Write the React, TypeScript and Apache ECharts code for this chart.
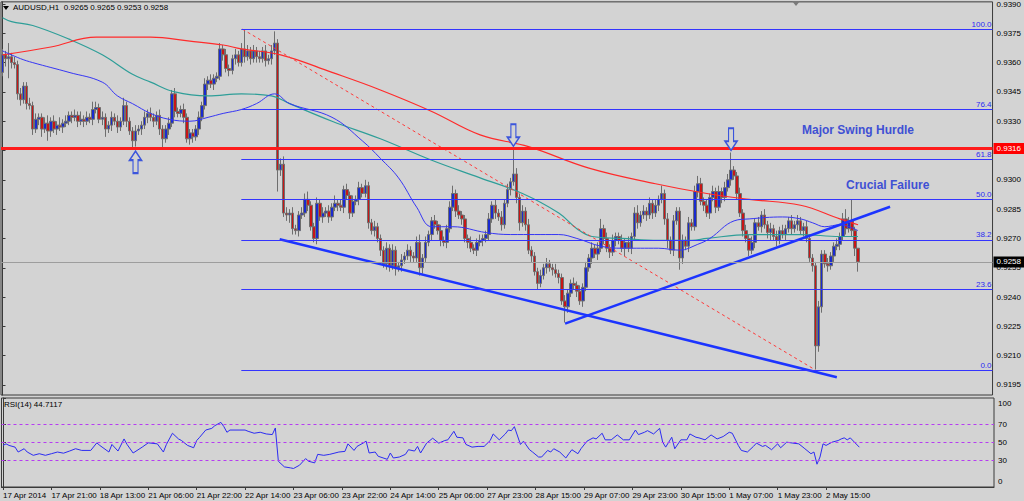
import React, { useEffect, useRef } from 'react';
import * as echarts from 'echarts';

const BG = '#d3d3d3';
const FONT = "'Liberation Sans Narrow', 'Liberation Sans', Arial, sans-serif";

const symbolName = 'AUDUSD,H1';
const tickLabels = [
  '17 Apr 2014', '17 Apr 21:00', '18 Apr 13:00', '21 Apr 06:00', '21 Apr 22:00', '22 Apr 14:00',
  '23 Apr 06:00', '23 Apr 22:00', '24 Apr 14:00', '25 Apr 06:00', '27 Apr 23:00', '28 Apr 15:00',
  '29 Apr 07:00', '29 Apr 23:00', '30 Apr 15:00', '1 May 07:00', '1 May 23:00', '2 May 15:00',
];

// prices in pips (x 0.0001)
const firstOpenPips = 9355;
const closePips = [
  9364, 9362, 9363, 9360, 9359, 9344, 9341, 9348, 9339, 9338, 9326, 9331, 9332, 9326, 9329, 9325,
  9330, 9326, 9328, 9327, 9329, 9330, 9333, 9332, 9333, 9330, 9331, 9330, 9332, 9331, 9336, 9337,
  9331, 9332, 9326, 9328, 9332, 9330, 9327, 9330, 9338, 9330, 9325, 9320, 9325, 9326, 9328, 9332,
  9334, 9332, 9330, 9333, 9326, 9321, 9326, 9329, 9344, 9335, 9334, 9336, 9332, 9321, 9324, 9322,
  9326, 9332, 9338, 9349, 9351, 9349, 9352, 9353, 9367, 9364, 9357, 9356, 9362, 9364, 9360, 9367,
  9363, 9366, 9362, 9366, 9363, 9362, 9366, 9361, 9362, 9366, 9370, 9305, 9308, 9283, 9282, 9283,
  9275, 9274, 9282, 9283, 9290, 9287, 9276, 9270, 9288, 9281, 9283, 9284, 9281, 9286, 9288, 9287,
  9286, 9295, 9292, 9283, 9289, 9290, 9296, 9293, 9297, 9278, 9274, 9276, 9270, 9264, 9257, 9265,
  9256, 9264, 9255, 9256, 9259, 9261, 9264, 9261, 9260, 9268, 9255, 9260, 9268, 9272, 9279, 9277,
  9274, 9269, 9268, 9275, 9286, 9293, 9284, 9282, 9280, 9270, 9268, 9265, 9264, 9268, 9269, 9270,
  9272, 9280, 9287, 9283, 9281, 9277, 9288, 9295, 9299, 9303, 9291, 9278, 9284, 9277, 9264, 9261,
  9253, 9247, 9251, 9255, 9257, 9255, 9254, 9252, 9250, 9238, 9235, 9242, 9247, 9246, 9243, 9238,
  9245, 9255, 9260, 9265, 9262, 9265, 9275, 9270, 9265, 9263, 9269, 9271, 9269, 9265, 9268, 9265,
  9271, 9283, 9278, 9282, 9284, 9282, 9288, 9283, 9287, 9290, 9293, 9280, 9269, 9264, 9279, 9284,
  9260, 9269, 9266, 9278, 9276, 9294, 9298, 9289, 9287, 9283, 9291, 9294, 9286, 9294, 9291, 9296,
  9300, 9305, 9302, 9293, 9283, 9274, 9270, 9264, 9268, 9278, 9276, 9282, 9277, 9273, 9275, 9271,
  9269, 9274, 9272, 9275, 9279, 9275, 9277, 9279, 9274, 9276, 9270, 9260, 9256, 9215, 9235, 9262,
  9257, 9256, 9261, 9266, 9267, 9271, 9280, 9275, 9279, 9274, 9265, 9258,
];
const upperWickPips = [
  3, 2, 7, 2, 3, 2, 3, 2, 2, 3, 2, 3, 2, 2, 3, 4,
  2, 3, 2, 4, 2, 3, 2, 2, 3, 2, 4, 2, 3, 2, 4, 3,
  2, 3, 2, 2, 3, 2, 3, 2, 4, 2, 2, 2, 3, 2, 2, 3,
  2, 3, 2, 2, 3, 2, 2, 3, 2, 3, 2, 2, 3, 2, 2, 2,
  2, 3, 2, 3, 2, 3, 2, 2, 3, 2, 3, 2, 2, 3, 2, 3,
  10, 3, 2, 3, 2, 3, 2, 3, 2, 3, 6, 2, 3, 4, 3, 2,
  3, 2, 2, 3, 3, 4, 2, 2, 3, 2, 3, 2, 3, 2, 4, 2,
  3, 2, 3, 2, 3, 2, 3, 2, 3, 2, 2, 3, 2, 2, 2, 3,
  2, 3, 2, 2, 3, 2, 3, 2, 2, 3, 4, 2, 3, 2, 2, 3,
  2, 3, 2, 2, 3, 4, 2, 3, 2, 2, 2, 3, 2, 2, 3, 2,
  2, 3, 2, 3, 2, 3, 2, 3, 2, 13, 3, 2, 3, 2, 3, 2,
  2, 2, 3, 2, 3, 2, 2, 3, 2, 2, 3, 2, 2, 3, 2, 3,
  2, 3, 2, 3, 2, 3, 5, 2, 3, 2, 3, 2, 2, 3, 2, 3,
  2, 3, 4, 2, 3, 2, 3, 2, 3, 2, 4, 2, 3, 2, 3, 2,
  2, 3, 2, 3, 2, 3, 4, 3, 2, 3, 2, 3, 2, 3, 2, 3,
  3, 9, 2, 2, 3, 2, 3, 2, 3, 2, 3, 2, 3, 2, 3, 2,
  3, 2, 3, 2, 2, 3, 2, 3, 2, 2, 3, 2, 2, 2, 3, 2,
  2, 3, 2, 2, 3, 2, 3, 5, 2, 11, 2, 0,
];
const lowerWickPips = [
  2, 4, 10, 3, 2, 3, 3, 2, 3, 2, 3, 2, 3, 4, 2, 5,
  3, 2, 3, 2, 3, 2, 2, 3, 2, 3, 2, 3, 2, 2, 3, 2,
  2, 3, 4, 2, 3, 2, 3, 2, 2, 3, 2, 4, 3, 2, 3, 2,
  3, 2, 3, 2, 3, 5, 2, 3, 2, 3, 2, 2, 3, 2, 3, 3,
  2, 3, 2, 2, 3, 2, 3, 2, 2, 3, 2, 3, 2, 3, 2, 2,
  3, 2, 3, 2, 3, 2, 2, 3, 2, 3, 2, 11, 3, 2, 3, 4,
  3, 2, 3, 2, 2, 3, 2, 2, 3, 2, 3, 2, 3, 2, 2, 3,
  2, 3, 2, 3, 2, 2, 3, 2, 2, 3, 2, 3, 2, 3, 2, 3,
  3, 2, 4, 2, 3, 2, 2, 3, 2, 2, 4, 3, 2, 2, 3, 2,
  2, 3, 2, 3, 2, 2, 3, 2, 3, 2, 3, 2, 2, 3, 2, 3,
  2, 3, 2, 3, 2, 3, 2, 2, 3, 2, 3, 4, 2, 3, 2, 3,
  2, 3, 2, 2, 3, 2, 3, 2, 3, 2, 8, 3, 2, 2, 3, 2,
  3, 2, 2, 3, 2, 3, 2, 3, 2, 3, 2, 3, 2, 2, 4, 2,
  3, 2, 3, 2, 2, 3, 2, 3, 2, 3, 2, 3, 4, 2, 3, 2,
  6, 3, 2, 3, 2, 2, 3, 2, 3, 2, 3, 2, 3, 2, 3, 2,
  2, 3, 2, 3, 2, 3, 2, 3, 2, 3, 2, 3, 2, 3, 4, 2,
  3, 2, 2, 3, 2, 3, 2, 3, 2, 3, 2, 2, 3, 12, 3, 3,
  2, 3, 2, 3, 2, 3, 2, 3, 2, 3, 4, 5,
];

// moving averages read at sample bars: [bar index, pips]
const redMA = [
  [0, 9364], [16, 9368], [31, 9373], [49, 9373], [62, 9371], [73, 9369], [79, 9367], [92, 9364],
  [109, 9355], [125, 9346], [142, 9335], [158, 9323], [174, 9317], [194, 9306], [216, 9298],
  [233, 9293], [247, 9290], [264, 9287], [277, 9280], [283, 9277],
];
const tealMA = [
  [0, 9383], [3, 9381], [10, 9379], [22, 9372], [33, 9364], [43, 9354], [49, 9350], [57, 9345],
  [68, 9343], [79, 9344], [89, 9343], [95, 9339], [109, 9330], [125, 9321], [142, 9310], [158, 9301],
  [172, 9293], [184, 9283], [190, 9275], [195, 9271], [205, 9270], [217, 9269], [228, 9269],
  [233, 9270], [247, 9272], [264, 9272], [277, 9271], [283, 9271],
];
const blueMA = [
  [0, 9366], [6, 9362], [10, 9360], [22, 9355], [33, 9350], [38, 9343], [43, 9339], [49, 9334],
  [55, 9331], [62, 9330], [68, 9332], [73, 9334], [79, 9336], [84, 9339], [90, 9344], [95, 9339],
  [109, 9332], [119, 9320], [125, 9311], [131, 9301], [137, 9286], [142, 9276], [149, 9276],
  [160, 9273], [168, 9272], [184, 9272], [190, 9270], [198, 9266], [205, 9265], [217, 9265],
  [224, 9264], [230, 9267], [234, 9270], [242, 9279], [247, 9280], [258, 9281], [264, 9280],
  [268, 9278], [272, 9276], [277, 9277], [283, 9274],
];

const rsiPoints = [
  [0, 46.7], [1, 48.5], [2, 46.7], [4, 44.8], [5, 39.3], [7, 43], [8, 39.3], [10, 35.6], [12, 37.4],
  [14, 35.6], [16, 37.4], [18, 39.3], [20, 38], [22, 40.4], [24, 43], [26, 41.1], [29, 41.1],
  [31, 49.6], [32, 46.7], [35, 39.3], [36, 47.8], [38, 40.4], [40, 54], [41, 47.8], [43, 38.2],
  [46, 44.8], [48, 49.6], [51, 48.5], [53, 39.3], [54, 47.8], [56, 60.4], [58, 54], [59, 52.2],
  [61, 46.7], [63, 44.1], [64, 52.2], [65, 55.9], [67, 64], [69, 65.9], [70, 68.9], [72, 72.6],
  [73, 67.8], [74, 61.5], [75, 64], [78, 64], [80, 64], [81, 62.6], [83, 60.4], [85, 61.5],
  [87, 59.6], [89, 58.9], [90, 66.3], [91, 28.9], [93, 22.6], [95, 21.5], [96, 20.8], [98, 24.5],
  [100, 31.9], [101, 28.9], [103, 27.1], [104, 36.7], [106, 35.6], [108, 36.7], [111, 39.3],
  [113, 40], [114, 48.5], [116, 41.1], [117, 45.6], [119, 49.3], [120, 51.5], [121, 38.2],
  [123, 39.3], [124, 34.5], [127, 31.1], [128, 38.2], [129, 32.6], [131, 33.7], [133, 36.7],
  [134, 41.9], [136, 40.4], [137, 45.6], [138, 38.2], [140, 49.3], [142, 54.8], [144, 49.3],
  [146, 52.2], [147, 53], [149, 62.6], [150, 55.9], [152, 55.2], [153, 47.8], [155, 44.8],
  [157, 45.6], [159, 45.6], [161, 52.2], [162, 59.6], [164, 53], [166, 59.6], [167, 64],
  [168, 63.3], [169, 67.8], [171, 47.8], [172, 51.5], [174, 41.9], [175, 39.3], [177, 33.7],
  [178, 33.7], [180, 41.1], [181, 39.3], [182, 43], [184, 39.3], [186, 32.6], [187, 37.4],
  [188, 41.9], [190, 37.4], [191, 43], [193, 51.5], [195, 55.2], [196, 54], [198, 60.4], [199, 53],
  [201, 53], [203, 58.5], [205, 53], [207, 53], [209, 64], [210, 58.9], [212, 61.5], [213, 63.3],
  [215, 59.6], [217, 65.9], [218, 50.4], [219, 44.8], [221, 55.9], [222, 43], [224, 53], [226, 53],
  [227, 59.6], [229, 55.9], [230, 55.2], [232, 53], [234, 58.5], [236, 54], [238, 56.7], [240, 61.5],
  [241, 60.4], [243, 46.7], [244, 41.1], [246, 39.3], [248, 45.6], [249, 49.3], [251, 45.6],
  [252, 46.7], [254, 41.9], [256, 48.5], [257, 44.1], [259, 50.4], [261, 49.3], [263, 48.5],
  [265, 43], [267, 37.4], [268, 39.3], [269, 25.6], [270, 33.7], [271, 48.5], [272, 46.7],
  [274, 50.4], [276, 52.2], [277, 54], [278, 55.2], [279, 53], [280, 55.2], [283, 44.7],
];
const rsiLastValue = 44.7117;
const rsiLevels = [30, 50, 70];
const rsiLabelValues = [0, 30, 50, 70, 100];

const priceTicks = [
  0.9195, 0.921, 0.9225, 0.924, 0.9255, 0.927, 0.9285, 0.93, 0.9315, 0.933, 0.9345, 0.936, 0.9375, 0.939,
];
const fibLowPrice = 0.92026;
const fibHighPrice = 0.93772;
const fibStartBar = 79;
const fibRatios = [0, 23.6, 38.2, 50, 61.8, 76.4, 100];
const hurdlePrice = 0.9316;
const descTrend = [[91.7, 0.92696], [276, 0.9199]];
const ascTrend = [[186.1, 0.92264], [293.6, 0.92862]];
const fibDiagonal = [[79.4, 0.93771], [269, 0.92026]];
const arrowsUp = [[44, 0.93147]];
const arrowsDown = [[169, 0.93172], [241, 0.93151]];

const TOTAL_SLOTS = 328;
const Y_MIN = 0.918987;
const Y_MAX = 0.939109;

const UP_PATH = 'path://M6 0L12 9L8.5 9L8.5 22L3.5 22L3.5 9L0 9Z';
const DOWN_PATH = 'path://M3.5 0L8.5 0L8.5 13L12 13L6 22L0 13L3.5 13Z';

function buildOption() {
  const candles = closePips.map((c, i) => {
    const o = i === 0 ? firstOpenPips : closePips[i - 1];
    const hi = Math.max(o, c) + upperWickPips[i];
    const lo = Math.min(o, c) - lowerWickPips[i];
    return [o / 1e4, c / 1e4, lo / 1e4, hi / 1e4];
  });
  const last = candles[candles.length - 1];
  const lastPrice = last[1];
  const cats = Array.from({ length: TOTAL_SLOTS }, (_, i) => String(i));
  const tickInterval = (idx: number) => idx % 16 === 0 && idx / 16 < tickLabels.length;
  const toPairs = (arr: number[][]) => arr.map(([i, v]) => [i, v / 1e4]);

  const fibLines = fibRatios.map((r) => {
    const lvl = fibLowPrice + ((fibHighPrice - fibLowPrice) * r) / 100;
    return [
      {
        coord: [fibStartBar, lvl],
        lineStyle: { color: '#3434ff', width: 1, type: 'solid' },
        label: {
          show: true,
          position: 'insideEndTop',
          formatter: r.toFixed(1),
          color: '#2a2af2',
          fontSize: 8,
          fontFamily: FONT,
          distance: 1,
        },
      },
      { coord: [TOTAL_SLOTS - 0.5, lvl] },
    ];
  });

  const axisFont = { fontSize: 8, color: '#000', fontFamily: FONT };
  const tagLabel = (bg: string, value: number) => ({
    show: true, position: 'end', formatter: value.toFixed(4), backgroundColor: bg,
    color: '#fff', padding: [2, 3, 1, 3], fontSize: 8, fontFamily: FONT, distance: 1,
  });

  return {
    animation: false,
    backgroundColor: BG,
    textStyle: { fontFamily: FONT },
    grid: [
      { left: 1, top: 0, width: 993, height: 395, show: true, borderColor: '#3a3a3a', borderWidth: 1 },
      { left: 1, top: 398, width: 993, height: 89, show: true, borderColor: '#3a3a3a', borderWidth: 1 },
    ],
    xAxis: [
      {
        type: 'category', gridIndex: 0, data: cats, boundaryGap: true,
        axisLine: { show: false }, axisTick: { show: false }, axisLabel: { show: false }, splitLine: { show: false },
      },
      {
        type: 'category', gridIndex: 1, data: cats, boundaryGap: true,
        axisLine: { show: true, lineStyle: { color: '#3a3a3a' } },
        axisTick: { show: true, interval: tickInterval, alignWithLabel: true, length: 3, lineStyle: { color: '#3a3a3a' } },
        axisLabel: {
          show: true, interval: tickInterval, align: 'left', margin: 4, ...axisFont,
          formatter: (_v: string, idx: number) => (idx % 16 === 0 ? tickLabels[idx / 16] ?? '' : ''),
        },
        splitLine: { show: false },
      },
      { type: 'value', gridIndex: 0, min: -0.5, max: TOTAL_SLOTS - 0.5, show: false },
      { type: 'value', gridIndex: 1, min: -0.5, max: TOTAL_SLOTS - 0.5, show: false },
    ],
    yAxis: [
      {
        type: 'value', gridIndex: 0, position: 'right', min: Y_MIN, max: Y_MAX,
        splitLine: { show: false },
        axisLine: { show: true, lineStyle: { color: '#3a3a3a' } },
        axisTick: { show: true, length: 3, customValues: priceTicks, lineStyle: { color: '#3a3a3a' } },
        axisLabel: { customValues: priceTicks, formatter: (v: number) => v.toFixed(4), margin: 4, ...axisFont },
      },
      {
        type: 'value', gridIndex: 1, position: 'right', min: 0, max: 100,
        splitLine: { show: false },
        axisLine: { show: true, lineStyle: { color: '#3a3a3a' } },
        axisTick: { show: true, length: 3, customValues: rsiLabelValues, lineStyle: { color: '#3a3a3a' } },
        axisLabel: {
          customValues: [6, 30, 50, 70, 94],
          formatter: (v: number) => (v === 6 ? '0' : v === 94 ? '100' : String(v)),
          margin: 4, ...axisFont,
        },
      },
    ],
    series: [
      {
        type: 'line', xAxisIndex: 2, yAxisIndex: 0, data: [], silent: true,
        markLine: {
          symbol: ['none', 'none'], silent: true, animation: false,
          data: [
            ...fibLines,
            [
              { coord: [-0.5, hurdlePrice], lineStyle: { color: '#ff1c1c', width: 3, type: 'solid' }, label: tagLabel('#ff0000', hurdlePrice) },
              { coord: [TOTAL_SLOTS - 0.5, hurdlePrice] },
            ],
            [
              { coord: [-0.5, lastPrice], lineStyle: { color: '#9d9d9d', width: 1, type: 'solid' }, label: tagLabel('#000000', lastPrice) },
              { coord: [TOTAL_SLOTS - 0.5, lastPrice] },
            ],
          ],
        },
      },
      {
        type: 'candlestick', xAxisIndex: 0, yAxisIndex: 0, data: candles, barWidth: 3,
        itemStyle: { color: '#1a2ad0', color0: '#c81616', borderColor: '#6e6e6e', borderColor0: '#6e6e6e', borderWidth: 1 },
        markPoint: {
          silent: true, animation: false, symbolSize: [12, 22],
          itemStyle: { color: BG, borderColor: '#3b55dc', borderWidth: 1.5 },
          label: { show: false },
          data: [
            ...arrowsUp.map((c) => ({ coord: c, symbol: UP_PATH, symbolOffset: [0, 11] })),
            ...arrowsDown.map((c) => ({ coord: c, symbol: DOWN_PATH, symbolOffset: [0, -11] })),
          ],
        },
      },
      {
        type: 'line', xAxisIndex: 2, yAxisIndex: 0, data: toPairs(tealMA), smooth: 0.4, showSymbol: false,
        lineStyle: { color: '#2e9e98', width: 1.2 }, silent: true,
      },
      {
        type: 'line', xAxisIndex: 2, yAxisIndex: 0, data: toPairs(redMA), smooth: 0.4, showSymbol: false,
        lineStyle: { color: '#ff2b2b', width: 1.2 }, silent: true,
      },
      {
        type: 'line', xAxisIndex: 2, yAxisIndex: 0, data: toPairs(blueMA), smooth: 0.4, showSymbol: false,
        lineStyle: { color: '#3636f4', width: 1 }, silent: true,
      },
      {
        type: 'line', xAxisIndex: 2, yAxisIndex: 0, data: fibDiagonal, showSymbol: false,
        lineStyle: { color: '#ff3a3a', width: 1, type: [3, 3] }, silent: true,
      },
      {
        type: 'line', xAxisIndex: 2, yAxisIndex: 0, data: descTrend, showSymbol: false,
        lineStyle: { color: '#1c34ff', width: 2.5 }, silent: true,
      },
      {
        type: 'line', xAxisIndex: 2, yAxisIndex: 0, data: ascTrend, showSymbol: false,
        lineStyle: { color: '#1c34ff', width: 2.5 }, silent: true,
      },
      {
        type: 'line', xAxisIndex: 3, yAxisIndex: 1, data: rsiPoints, showSymbol: false,
        lineStyle: { color: '#2b2bf2', width: 1 }, silent: true,
        markLine: {
          symbol: ['none', 'none'], silent: true, animation: false,
          lineStyle: { color: '#b63cf2', width: 1, type: [3, 3] },
          label: { show: false },
          data: rsiLevels.map((v) => ({ yAxis: v })),
        },
      },
    ],
    graphic: [
      { type: 'polygon', shape: { points: [[3, 6], [9, 6], [6, 10]] }, style: { fill: '#000' } },
      {
        type: 'text', left: 13, top: 3,
        style: {
          text: `${symbolName}  ${last[0].toFixed(4)} ${last[3].toFixed(4)} ${last[2].toFixed(4)} ${last[1].toFixed(4)}`,
          fill: '#000', fontSize: 8, fontFamily: FONT,
        },
      },
      { type: 'polygon', shape: { points: [[792, 1], [800, 1], [796, 6]] }, style: { fill: '#7a7a7a' } },
      {
        type: 'text', left: 4, top: 400,
        style: { text: `RSI(14) ${rsiLastValue.toFixed(4)}`, fill: '#000', fontSize: 8, fontFamily: FONT },
      },
      {
        type: 'text', left: 802, top: 124,
        style: { text: 'Major Swing Hurdle', fill: '#3f50d4', fontSize: 12, fontWeight: 'bold', fontFamily: FONT },
      },
      {
        type: 'text', left: 846, top: 179,
        style: { text: 'Crucial Failure', fill: '#3f50d4', fontSize: 12, fontWeight: 'bold', fontFamily: FONT },
      },
    ],
  };
}

export default function App() {
  const ref = useRef<HTMLDivElement>(null);
  useEffect(() => {
    const chart = echarts.init(ref.current as HTMLDivElement, null, { renderer: 'svg' });
    chart.setOption(buildOption() as any);
    return () => chart.dispose();
  }, []);
  return (
    <div style={{ position: 'fixed', left: 0, top: 0, width: 1024, height: 501, background: BG }}>
      <div ref={ref} style={{ width: 1024, height: 501 }} />
    </div>
  );
}
